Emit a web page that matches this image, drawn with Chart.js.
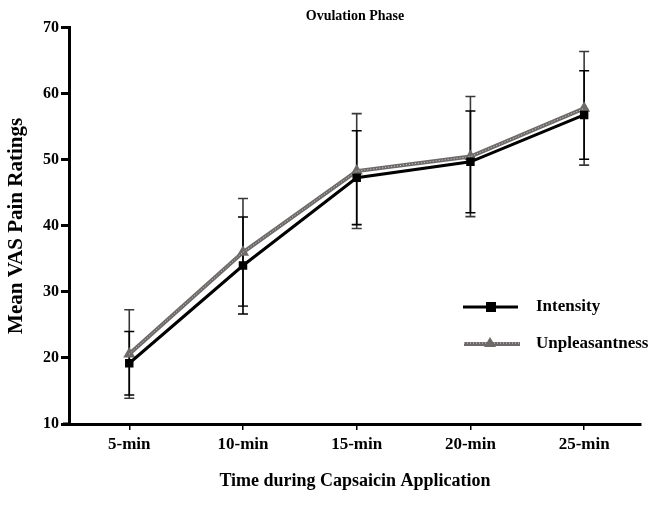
<!DOCTYPE html>
<html>
<head>
<meta charset="utf-8">
<script src="https://cdn.jsdelivr.net/npm/chart.js@4/dist/chart.umd.min.js"></script>
<style>
html,body{margin:0;padding:0;background:#fff;}
#wrap{width:656px;height:521px;}
</style>
</head>
<body>
<div id="wrap"><canvas id="c" width="656" height="521"></canvas></div>
<script>
const categories = ['5-min', '10-min', '15-min', '20-min', '25-min'];
const intensity = [19.2, 34.0, 47.3, 49.7, 56.8];
const intensityErr = [4.8, 7.35, 7.1, 7.7, 6.7];
const unpleasantness = [20.6, 36.0, 48.3, 50.5, 57.8];
const unpleasantnessErr = [6.7, 8.15, 8.7, 9.1, 8.6];
const seriesNames = ['Intensity', 'Unpleasantness'];

const FONT = "'Liberation Serif', 'Times New Roman', serif";

const pts = arr => arr.map((v, i) => ({x: i, y: v}));

const errorBars = {
  id: 'errorBars',
  beforeDatasetsDraw(chart) {
    const {ctx, scales: {x, y}} = chart;
    const sets = [
      {vals: unpleasantness, errs: unpleasantnessErr, color: '#3a3838'},
      {vals: intensity, errs: intensityErr, color: '#000'}
    ];
    ctx.save();
    ctx.lineWidth = 1.6;
    sets.forEach(s => {
      ctx.strokeStyle = s.color;
      s.vals.forEach((v, i) => {
        const px = x.getPixelForValue(i);
        const top = y.getPixelForValue(v + s.errs[i]);
        const bot = y.getPixelForValue(v - s.errs[i]);
        ctx.beginPath();
        ctx.moveTo(px, top); ctx.lineTo(px, bot);
        ctx.moveTo(px - 5, top); ctx.lineTo(px + 5, top);
        ctx.moveTo(px - 5, bot); ctx.lineTo(px + 5, bot);
        ctx.stroke();
      });
    });
    ctx.restore();
  }
};

const legendPlugin = {
  id: 'customLegend',
  afterDraw(chart) {
    const {ctx, chartArea} = chart;
    ctx.save();
    // small x-axis extension left of the y axis
    ctx.strokeStyle = '#000'; ctx.lineWidth = 3;
    ctx.beginPath(); ctx.moveTo(chartArea.left - 6, chartArea.bottom); ctx.lineTo(chartArea.left, chartArea.bottom); ctx.stroke();
    // Intensity
    ctx.strokeStyle = '#000'; ctx.lineWidth = 3;
    ctx.beginPath(); ctx.moveTo(463, 307); ctx.lineTo(518, 307); ctx.stroke();
    ctx.fillStyle = '#000'; ctx.fillRect(486, 302, 10, 10);
    // Unpleasantness
    ctx.strokeStyle = '#6e6a6a'; ctx.lineWidth = 4;
    ctx.beginPath(); ctx.moveTo(464, 344); ctx.lineTo(520, 344); ctx.stroke();
    ctx.strokeStyle = 'rgba(255,255,255,0.7)'; ctx.lineWidth = 1; ctx.setLineDash([1, 2]);
    ctx.beginPath(); ctx.moveTo(464, 343); ctx.lineTo(520, 343); ctx.stroke();
    ctx.setLineDash([]);
    ctx.fillStyle = '#6e6a6a';
    ctx.beginPath(); ctx.moveTo(490, 337); ctx.lineTo(496, 347); ctx.lineTo(484, 347); ctx.closePath(); ctx.fill();
    ctx.fillStyle = '#000';
    ctx.font = 'bold 17px ' + FONT;
    ctx.textBaseline = 'middle'; ctx.textAlign = 'left';
    ctx.fillText(seriesNames[0], 536, 307);
    ctx.fillText(seriesNames[1], 536, 344);
    ctx.restore();
  }
};

new Chart(document.getElementById('c'), {
  type: 'line',
  data: {
    datasets: [
      {
        label: seriesNames[0], data: pts(intensity),
        borderColor: '#000', backgroundColor: '#000', borderWidth: 3,
        pointStyle: 'rect', pointRadius: 6, pointBorderWidth: 0, tension: 0
      },
      {
        label: seriesNames[1] + ' texture', data: pts(unpleasantness),
        borderColor: 'rgba(255,255,255,0.7)', borderWidth: 1, borderDash: [1, 2],
        pointRadius: 0, tension: 0
      },
      {
        label: seriesNames[1], data: pts(unpleasantness),
        borderColor: '#6e6a6a', backgroundColor: '#6e6a6a', borderWidth: 4,
        pointStyle: 'triangle', pointRadius: 7, pointBorderWidth: 0, tension: 0
      }
    ]
  },
  options: {
    responsive: false,
    animation: false,
    layout: {padding: {left: 0, right: 15, top: 0, bottom: 0}},
    plugins: {
      legend: {display: false},
      tooltip: {enabled: false},
      title: {
        display: true, fullSize: false, text: 'Ovulation Phase', color: '#000',
        font: {family: FONT, size: 14, weight: 'bold'},
        padding: {top: 8, bottom: 3}
      }
    },
    scales: {
      x: {
        type: 'linear', min: -0.53, max: 4.5,
        afterFit: s => { s.height = 97; },
        ticks: {
          stepSize: 1, includeBounds: false, autoSkip: false, maxRotation: 0,
          color: '#000', padding: 4,
          font: {family: FONT, size: 17, weight: 'bold'},
          callback: v => categories[v] !== undefined ? categories[v] : ''
        },
        grid: {drawOnChartArea: false, drawTicks: true, tickLength: 6, color: '#000', lineWidth: 1.5},
        border: {display: true, color: '#000', width: 3},
        title: {
          display: true, text: 'Time during Capsaicin Application', color: '#000',
          font: {family: FONT, size: 18, weight: 'bold'},
          padding: {top: 0, bottom: 29}
        }
      },
      y: {
        min: 10, max: 70,
        afterFit: s => { s.width = 69; },
        ticks: {
          stepSize: 10, color: '#000', padding: 2,
          font: {family: FONT, size: 16, weight: 'bold'}
        },
        grid: {drawOnChartArea: false, drawTicks: true, tickLength: 8, color: '#000', lineWidth: 3},
        border: {display: true, color: '#000', width: 3},
        title: {
          display: true, text: 'Mean VAS Pain Ratings', color: '#000',
          font: {family: FONT, size: 21, weight: 'bold'},
          padding: {top: 4, bottom: 0}
        }
      }
    }
  },
  plugins: [errorBars, legendPlugin]
});
</script>
</body>
</html>
